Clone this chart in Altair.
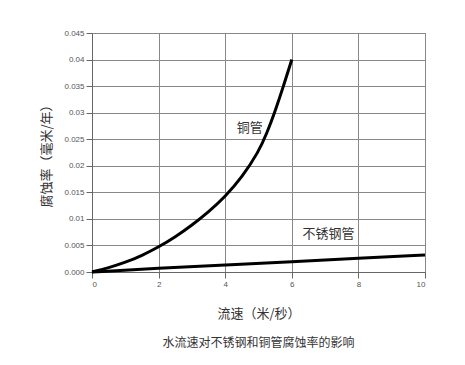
import altair as alt
import pandas as pd

copper_x = [0, 0.5, 1, 1.5, 2, 2.5, 3, 3.5, 4, 4.5, 5, 5.25, 5.5, 5.75, 6]
copper_y = [0, 0.0008, 0.0018, 0.0031, 0.0047, 0.0066, 0.0088, 0.0113, 0.0142, 0.0178, 0.0226, 0.0261, 0.0303, 0.0350, 0.0400]
steel_x = [0, 2, 4, 6, 8, 10]
steel_y = [0, 0.0007, 0.0013, 0.0019, 0.0026, 0.0032]
label_text = ["铜管", "不锈钢管"]
label_x = [4.74, 7.1]
label_y = [0.0271, 0.0072]

df = pd.concat([
    pd.DataFrame({"x": copper_x, "y": copper_y, "s": "铜管"}),
    pd.DataFrame({"x": steel_x, "y": steel_y, "s": "不锈钢管"}),
])
lab = pd.DataFrame({"t": label_text, "x": label_x, "y": label_y})

FONT = "Noto Sans CJK SC"

x = alt.X("x:Q", scale=alt.Scale(domain=[0, 10], nice=False),
          axis=alt.Axis(values=[0, 2, 4, 6, 8, 10], title="流速（米/秒）",
                        titleFontSize=13, titleFontWeight="normal", titleColor="#333",
                        titlePadding=19, titleFont=FONT, labelOverlap=False))
y = alt.Y("y:Q", scale=alt.Scale(domain=[0, 0.045], nice=False),
          axis=alt.Axis(values=[0, 0.005, 0.01, 0.015, 0.02, 0.025, 0.03, 0.035, 0.04, 0.045],
                        labelExpr="datum.value == 0 ? '0.000' : format(datum.value, '~g')",
                        labelOverlap=False, tickCount=10,
                        title="腐蚀率（毫米/年）", titleFontSize=13, titleFontWeight="normal",
                        titleColor="#333", titlePadding=10, titleFont=FONT))

base = alt.Chart(df)
lines = base.mark_line(color="black", strokeWidth=3, interpolate="basis").encode(
    x=x, y=y, detail="s:N")
texts = alt.Chart(lab).mark_text(font=FONT, fontSize=13, color="#333").encode(
    x=x, y=y, text="t:N")

chart = alt.layer(lines, texts).properties(
    width=333, height=239,
    autosize=alt.AutoSizeParams(type="none"),
    padding={"left": 84, "top": 25, "right": 32, "bottom": 85},
    title=alt.TitleParams("水流速对不锈钢和铜管腐蚀率的影响", orient="bottom", fontSize=12,
                          fontWeight="normal", color="#333", font=FONT, offset=18),
).configure_view(stroke="#888", strokeWidth=1).configure_axis(
    gridColor="#888", gridWidth=1, gridOpacity=1, domainColor="#666", tickColor="#666",
    tickSize=6, labelColor="#555", labelFontSize=8, labelFont="Liberation Sans", labelPadding=2,
)

chart.save("out.html", embed_options={"renderer": "svg", "actions": False})
